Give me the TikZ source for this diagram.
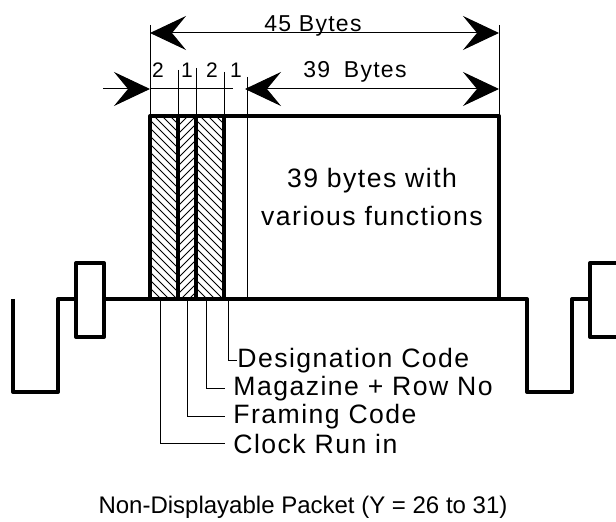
\documentclass[tikz,border=0pt]{standalone}
\usepackage{fontspec}
\setmainfont{Liberation Sans}
\newfontfamily\spacedfont[LetterSpace=5.5]{Liberation Sans}
\usetikzlibrary{arrows.meta}

\begin{document}
\begin{tikzpicture}[x=0.5pt, y=-0.5pt,
  heavy/.style={line width=2pt, line join=round},
  thinline/.style={line width=0.5pt},
  hatch/.style={line width=0.5pt},
  dim/.style={line width=0.5pt, {Stealth[length=18pt, width=17pt, inset=7pt]}-{Stealth[length=18pt, width=17pt, inset=7pt]}},
  dimend/.style={line width=0.5pt, -{Stealth[length=18pt, width=17pt, inset=7pt]}},
  dimtext/.style={font=\spacedfont\fontsize{11.5}{14}\selectfont, inner sep=0pt, anchor=base},
  bytecount/.style={font=\fontsize{10.5}{12}\selectfont, inner sep=0pt, anchor=base},
  leadtext/.style={font=\spacedfont\fontsize{13.3}{16}\selectfont, inner sep=0pt, anchor=west}
]
\useasboundingbox (0,0) rectangle (616,522);

% hatched header bytes
\begin{scope}
  \clip (150,116) rectangle (178,299);
  \foreach \y in {80,88,...,304} \draw[hatch] (150,\y) -- (178,\y+28);
\end{scope}
\begin{scope}
  \clip (178,116) rectangle (196,299);
  \foreach \y in {92,100,...,304} \draw[hatch] (178,\y+18) -- (196,\y);
\end{scope}
\begin{scope}
  \clip (196,116) rectangle (224,299);
  \foreach \y in {80,88,...,304} \draw[hatch] (196,\y) -- (224,\y+28);
\end{scope}

% packet box
\draw[heavy] (150,299) -- (150,116) -- (499,116) -- (499,299);
\foreach \x in {178,196,224} \draw[heavy] (\x,116) -- (\x,299);
\draw[thinline] (247,77) -- (247,299);

% signal line
\draw[heavy] (13,299) -- (13,392) -- (58,392) -- (58,299) -- (76,299);
\draw[heavy] (76,263) rectangle (104,337);
\draw[heavy] (104,299) -- (527,299) -- (527,392) -- (572,392) -- (572,299) -- (590,299);
\draw[heavy] (590,263) rectangle (618,337);

% dimensions
\draw[thinline] (150,25) -- (150,116);
\draw[thinline] (499,25) -- (499,116);
\draw[thinline] (178,70) -- (178,116);
\draw[thinline] (196,68) -- (196,116);
\draw[thinline] (224,72) -- (224,116);
\coordinate (d45L) at (150,33);
\coordinate (d45R) at (499,33);
\coordinate (hdrIn) at (103,89);
\coordinate (hdrL) at (150,89);
\coordinate (hdrR) at (233,89);
\coordinate (d39L) at (245,89);
\coordinate (d39R) at (499,89);
\draw[dim] (d45L) -- (d45R);
\draw[dimend] (hdrIn) -- (hdrL);
\draw[thinline] (hdrL) -- (hdrR);
\draw[dim] (d39L) -- (d39R);
\node[dimtext] (b45) at (313,32) {45 Bytes};
\node[dimtext] (b39) at (355,78) {39\hspace{3pt} Bytes};
\node[bytecount] (n1) at (158,78) {2};
\node[bytecount] (n2) at (187,78) {1};
\node[bytecount] (n3) at (212,78) {2};
\node[bytecount] (n4) at (236,78) {1};

\node[font=\spacedfont\fontsize{13.3}{19.5}\selectfont, align=center] (funcs) at (372,197) {39 bytes with\\various functions};

% leaders
\node[leadtext] (desig) at (237,361) {Designation Code};
\node[leadtext] (magrow) at (233,389) {Magazine + Row No};
\node[leadtext] (framing) at (233,417) {Framing Code};
\node[leadtext] (clock) at (233,444) {Clock Run in};
\coordinate (pDesig) at (228,299);
\coordinate (pMag) at (206,299);
\coordinate (pFram) at (187,299);
\coordinate (pClock) at (160,299);
\draw[thinline] (pDesig) |- (desig.west);
\draw[thinline] (pMag) |- ([xshift=-4pt]magrow.west);
\draw[thinline] (pFram) |- ([xshift=-4pt]framing.west);
\draw[thinline] (pClock) |- ([xshift=-4pt]clock.west);

\node[font=\fontsize{12}{14}\selectfont] (caption) at (303,507) {Non-Displayable Packet (Y = 26 to 31)};
\end{tikzpicture}
\end{document}
